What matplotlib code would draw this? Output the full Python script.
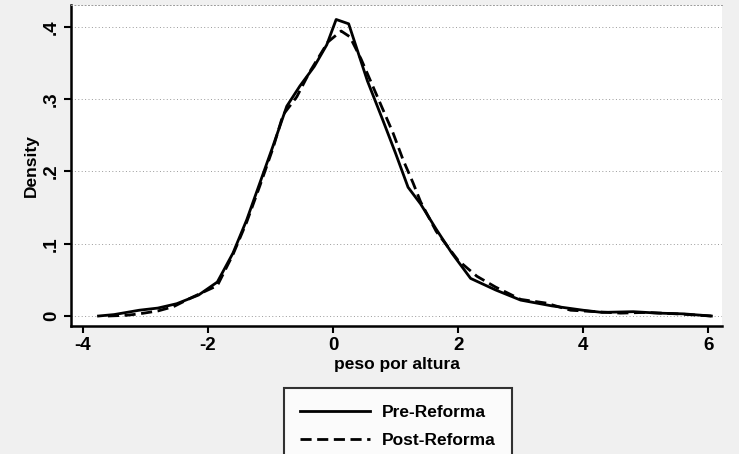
import matplotlib
matplotlib.use("Agg")
import matplotlib.pyplot as plt

plt.rcParams['font.family'] = ['Liberation Sans', 'DejaVu Sans']

# Pre-Reforma (solid)
pre_x = [-3.75, -3.5, -3.1, -2.8, -2.5, -2.15, -1.85, -1.6, -1.38, -1.17, -0.96, -0.74,
         -0.53, -0.3, -0.1, 0.05, 0.25, 0.55, 0.8, 1.0, 1.2, 1.4, 1.65, 1.9, 2.2, 2.6,
         3.0, 3.5, 4.0, 4.3, 4.8, 5.2, 5.6, 6.05]
pre_y = [0.0, 0.002, 0.008, 0.011, 0.017, 0.029, 0.047, 0.087, 0.133, 0.184, 0.235, 0.29,
         0.318, 0.345, 0.375, 0.41, 0.404, 0.325, 0.27, 0.225, 0.178, 0.155, 0.12, 0.087,
         0.052, 0.036, 0.022, 0.014, 0.008, 0.005, 0.006, 0.004, 0.003, 0.0]

# Post-Reforma (dashed)
post_x = [-3.6, -3.3, -3.1, -2.8, -2.55, -2.25, -1.85, -1.6, -1.38, -1.17, -0.96, -0.8,
          -0.58, -0.37, -0.08, 0.13, 0.27, 0.45, 0.64, 0.96, 1.12, 1.28, 1.4, 1.65, 2.0,
          2.3, 2.6, 3.0, 3.4, 3.8, 4.2, 4.6, 5.0, 5.5, 6.05]
post_y = [0.0, 0.001, 0.003, 0.007, 0.013, 0.026, 0.042, 0.085, 0.13, 0.18, 0.232, 0.278,
          0.303, 0.338, 0.379, 0.394, 0.386, 0.355, 0.317, 0.253, 0.216, 0.184, 0.158,
          0.117, 0.077, 0.055, 0.04, 0.023, 0.018, 0.008, 0.006, 0.004, 0.005, 0.003, 0.0]

x_ticks = [-4, -2, 0, 2, 4, 6]
x_ticklabels = ['-4', '-2', '0', '2', '4', '6']
y_ticks = [0, 0.1, 0.2, 0.3, 0.4]
y_ticklabels = ['0', '.1', '.2', '.3', '.4']
series_labels = ['Pre-Reforma', 'Post-Reforma']

fig = plt.figure(figsize=(7.39, 4.54), dpi=100, facecolor='#f0f0f0')
ax = fig.add_axes([71/739, 1 - 326/454, (722 - 71)/739, (326 - 5)/454])
ax.set_facecolor('white')

ax.plot(pre_x, pre_y, color='black', lw=2.0, linestyle='-', label=series_labels[0])
ax.plot(post_x, post_y, color='black', lw=2.0, linestyle=(0, (4, 2)), label=series_labels[1])

ax.set_xlim(-4.19, 6.22)
ax.set_ylim(-0.0138, 0.430)

for yv in y_ticks:
    ax.axhline(yv, color='#9a9a9a', lw=0.7, linestyle=(0, (1, 2.5)), zorder=0)

ax.spines['right'].set_visible(False)
ax.spines['top'].set_color('#9a9a9a')
ax.spines['top'].set_linewidth(0.7)
ax.spines['top'].set_linestyle((0, (1, 2.5)))
ax.spines['left'].set_linewidth(1.8)
ax.spines['bottom'].set_linewidth(1.8)

ax.set_xticks(x_ticks)
ax.set_xticklabels(x_ticklabels, fontsize=13.5, fontweight='bold')
ax.set_yticks(y_ticks)
ax.set_yticklabels(y_ticklabels, fontsize=13.5, fontweight='bold', rotation=90, va='center')
ax.tick_params(axis='both', direction='out', length=5, width=1.5, pad=3)

ax.set_xlabel('peso por altura', fontsize=12.5, fontweight='bold', labelpad=2)
ax.set_ylabel('Density', fontsize=12.5, fontweight='bold', labelpad=3)

leg = fig.legend(loc='upper center', bbox_to_anchor=(398/739, 1 - 388/454),
                 prop={'weight': 'bold', 'size': 12.5},
                 frameon=True, fancybox=False, edgecolor='black',
                 handlelength=4.0, handletextpad=0.7, borderpad=0.95,
                 labelspacing=0.75, borderaxespad=0)
leg.get_frame().set_linewidth(1.5)
leg.get_frame().set_facecolor('white')

fig.savefig('out.png', dpi=100, facecolor=fig.get_facecolor())
